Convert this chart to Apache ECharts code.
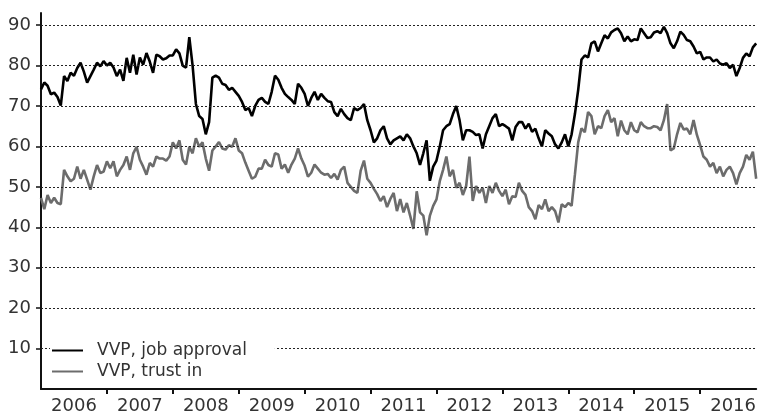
<!DOCTYPE html>
<html><head><meta charset="utf-8">
<script src="https://cdn.jsdelivr.net/npm/echarts@6/dist/echarts.min.js"></script>
<style>html,body{margin:0;padding:0;background:#fff}#c{width:759px;height:415px}</style>
</head><body><div id="c"></div>
<script>
// time grid: one value every 0.05 year starting at 2006.0
const startYear = 2006;
const stepYears = 0.05;
const yearTicks = [2007, 2008, 2009, 2010, 2011, 2012, 2013, 2014, 2015, 2016];
const yearLabels = [2006, 2007, 2008, 2009, 2010, 2011, 2012, 2013, 2014, 2015, 2016];
const yTicks = [10, 20, 30, 40, 50, 60, 70, 80, 90];
const seriesNames = ['VVP, job approval', 'VVP, trust in'];

const approval = [
  74.1,75.8,75,72.9,73.3,72.2,70.1,77.4,76.2,78.2,77.5,79.4,80.7,78.5,75.8,77.4,79,80.7,79.8,81.1,80,80.7,79.5,77.4,79,76.2,81.9,78.2,82.7,77.8,82,80.2,83.1,81,78.2,82.7,82.3,
  81.5,81.8,82.5,82.5,84,83,80,79.5,87,80,70.5,67.5,66.8,63,66,77,77.5,77,75.5,75.2,74,74.5,73.5,72.5,71,69,69.5,67.5,70,71.5,72,71,70.5,73.5,77.5,76.5,
  74.5,73,72.2,71.5,70.5,75.5,74.5,73,70,72,73.5,71.5,73,72,71.2,71,68.5,67.5,69.3,68,67,66.5,69.5,69,69.5,70.5,66.5,64,61,62,64,65,62,60.5,61.5,62,
  62.5,61.5,63,62,60,58.3,55.4,58.3,61.5,51.5,55,56.5,60,64,65,65.5,68,70,66.5,61.5,64,64,63.6,62.8,63,59.5,63,65,67,68,65,65.5,65,64.4,61.5,64.8,
  66,66,64.4,65.6,63.6,64.4,62,60,64,63.2,62.5,60.5,59.5,61,63,60,63,68,74,81.5,82.5,82,85.5,86,83.5,85.5,87.5,86.7,88.2,88.8,89.2,88,86,87.2,86,86.5,
  86.3,89.2,88,86.8,87,88.2,88.5,88,89.6,88,85.5,84.3,86,88.4,87.6,86.3,86,84.7,83,83.4,81.5,82,82,81,81.5,80.5,80.2,80.6,79.4,80.2,77.4,79.4,81.9,83,82.3,84.5,85.5
];
const trust = [
  47.3,44.5,48,46,47.3,46,45.7,54.2,52.6,51.4,52,55,52,54.2,51.8,49.3,52.6,55.4,53.4,53.8,56.3,54.6,56.3,52.6,54.2,55.4,57.5,54.2,58.3,59.9,56.7,55,53,55.9,55,57.5,57,
  57,56.5,57.5,61,59.5,61.5,56.7,55.5,59.9,58.3,62,59.9,61,57,54,59,60,61.1,59.5,59.2,60.3,59.9,62,59,58.3,56,54,52,52.5,54.5,54.5,56.7,55.4,55,58.3,58,
  54.5,55.5,53.5,55.5,57,59.5,57,55.2,52.5,53.5,55.5,54.5,53.5,53,53.2,52.2,53.2,51.8,54.2,55,51,50,49,48.5,54,56.5,52,51,49.5,48.2,46.5,47.7,45,47,48.5,44,
  47,43.7,46,42.9,39.6,48.9,43.7,42.9,38,42.9,45.3,46.9,51.4,54.2,57.5,52.6,54.2,49.8,51,48,50.2,57.5,46.5,50.2,48.5,49.8,46,50.2,48.5,51,49,47.7,49.3,45.7,47.7,47.5,
  51,49,48,45,44,42,45.5,44.5,46.9,44,45,44,41.2,45.7,45,46,45.3,53,61,64.5,63.5,68.5,67.5,63,65,64.5,67.5,69,66,67,62.5,66.4,64,63,66,64,
  63.5,66,65,64.5,64.5,65,64.8,64,66.5,70.5,59,59.5,63,65.8,64.2,64.4,63,66.5,62.9,60.3,57.5,56.7,55,55.9,53.4,55,52.6,54.2,55,53.4,50.6,53.4,55,57.9,56.7,58.7,52
];

const times = approval.map((_, i) => +(startYear + i * stepYears).toFixed(2));
const xMax = times[times.length - 1];
const pair = arr => arr.map((v, i) => [times[i], v]);

const FONT = 'DejaVu Sans';
const chart = echarts.init(document.getElementById('c'), null, {renderer: 'canvas'});
chart.setOption({
  animation: false,
  backgroundColor: '#fff',
  textStyle: {fontFamily: FONT},
  grid: {left: 41, right: 0, top: 13, bottom: 24, containLabel: false},
  legend: {
    data: seriesNames,
    orient: 'vertical',
    left: 50, top: 339,
    icon: 'rect', itemWidth: 31, itemHeight: 2, itemGap: 4,
    backgroundColor: '#fff',
    padding: [3, 28, 3, 2],
    textStyle: {fontFamily: FONT, fontSize: 17, color: '#333', padding: [0, 0, 0, 9]},
    z: 10
  },
  xAxis: {
    type: 'value', min: startYear, max: xMax,
    axisLine: {show: true, lineStyle: {color: '#111', width: 2}},
    axisTick: {show: true, length: 5, inside: false, lineStyle: {color: '#111', width: 2},
      customValues: yearTicks},
    axisLabel: {show: true, margin: 8, fontFamily: FONT, fontSize: 18, color: '#333',
      customValues: yearLabels.map(y => y + 0.5),
      formatter: v => String(Math.floor(v))},
    splitLine: {show: false}
  },
  yAxis: {
    type: 'value', min: 0, max: 93,
    axisLine: {show: true, lineStyle: {color: '#111', width: 2}},
    axisTick: {show: true, length: 5, lineStyle: {color: '#111', width: 1.5}, customValues: yTicks},
    axisLabel: {margin: 10, fontFamily: FONT, fontSize: 18, color: '#333', customValues: yTicks},
    splitLine: {show: false}
  },
  series: [
    {
      name: 'grid', type: 'line', data: [], z: 1, silent: true,
      markLine: {
        silent: true, symbol: 'none', label: {show: false}, animation: false,
        lineStyle: {type: [2, 2], color: '#222', width: 1},
        data: yTicks.map(v => ({yAxis: v}))
      }
    },
    {
      name: seriesNames[0], type: 'line', data: pair(approval), showSymbol: false, symbol: 'none',
      lineStyle: {color: '#000', width: 2.6}, itemStyle: {color: '#000'}, z: 3
    },
    {
      name: seriesNames[1], type: 'line', data: pair(trust), showSymbol: false, symbol: 'none',
      lineStyle: {color: '#6c6c6c', width: 2.6}, itemStyle: {color: '#6c6c6c'}, z: 2
    }
  ]
});
</script></body></html>
